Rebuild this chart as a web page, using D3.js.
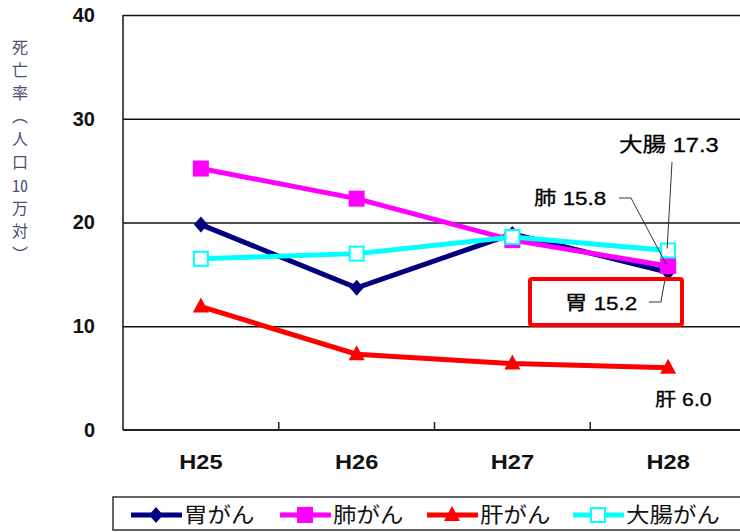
<!DOCTYPE html>
<html>
<head>
<meta charset="utf-8">
<script src="https://cdn.jsdelivr.net/npm/d3@7"></script>
<style>
  body { margin: 0; background: #fff; position: relative; }
  svg { display: block; }
  .ytitle {
    position: absolute; left: 12px; top: 39px;
    writing-mode: vertical-rl;
    font-family: 'Noto Sans CJK JP', sans-serif;
    font-size: 16px; line-height: 16px; letter-spacing: 7px;
    color: #4e4e74; white-space: nowrap;
  }
  .ytitle .tcy { text-combine-upright: all; letter-spacing: 0; margin-bottom: 7px; }
</style>
</head>
<body>
<script>
// Cancer death rates per 100,000 population, fiscal years H25–H28
const years = ["H25", "H26", "H27", "H28"];
const stomach = [19.8, 13.7, 18.9, 15.2];
const lung = [25.2, 22.3, 18.3, 15.8];
const liver = [11.9, 7.3, 6.4, 6.0];
const colon = [16.5, 17.0, 18.6, 17.3];
const seriesNames = ["胃がん", "肺がん", "肝がん", "大腸がん"];
const shortNames = ["胃", "肺", "肝", "大腸"];
const yTicks = [0, 10, 20, 30, 40];
const yTitleParts = ["死亡率（人口", "10", "万対）"];

const W = 740, H = 532;
const plotL = 123, plotR = 746, plotT = 15, plotB = 430;
const stretch = 1.18;   // wide text proportions used throughout

const svg = d3.select("body").append("svg")
  .attr("width", W).attr("height", H)
  .attr("viewBox", `0 0 ${W} ${H}`);

const x = d3.scaleBand().domain(years).range([plotL, plotR]);
const y = d3.scaleLinear().domain([0, 40]).range([plotB, plotT]);
const cx = d => x(d) + x.bandwidth() / 2;

const numFont = "'Liberation Sans', Arial, sans-serif";
const cjkFont = "'Liberation Sans', 'Noto Sans CJK JP', sans-serif";

// Horizontal gridlines and value labels
const yAxis = d3.axisLeft(y).tickValues(yTicks).tickSize(-(W - plotL)).tickPadding(28);
const gy = svg.append("g").attr("transform", `translate(${plotL},0)`).call(yAxis);
gy.select(".domain").remove();
gy.selectAll(".tick line").attr("stroke", "#111").attr("stroke-width", 1.4)
  .filter(d => d === 0).remove();
gy.selectAll(".tick text")
  .attr("fill", "#111").attr("font-family", numFont)
  .attr("font-weight", "bold").attr("font-size", 20);

// Category labels
const xAxis = d3.axisBottom(x).tickSize(0).tickPadding(0).tickFormat("");
const gx = svg.append("g").attr("transform", `translate(0,${plotB})`).call(xAxis);
gx.select(".domain").remove();
gx.selectAll(".tick").append("text")
  .attr("transform", `translate(0,39) scale(${stretch},1)`)
  .attr("text-anchor", "middle")
  .attr("fill", "#111").attr("font-family", numFont)
  .attr("font-weight", "bold").attr("font-size", 20)
  .text(d => d);

// Axis lines and boundary ticks
svg.append("line").attr("x1", plotL).attr("x2", plotL).attr("y1", plotT).attr("y2", plotB)
  .attr("stroke", "#222").attr("stroke-width", 1.6);
svg.append("line").attr("x1", plotL).attr("x2", W).attr("y1", plotB).attr("y2", plotB)
  .attr("stroke", "#222").attr("stroke-width", 2);
svg.append("g").selectAll("line").data(years.slice(1)).join("line")
  .attr("x1", d => x(d)).attr("x2", d => x(d))
  .attr("y1", plotB).attr("y2", plotB - 8)
  .attr("stroke", "#222").attr("stroke-width", 1.5);

// Vertical axis title (vertical writing, "10" set upright across the column)
const yt = d3.select("body").append("div").attr("class", "ytitle");
yTitleParts.forEach((t, i) => {
  yt.append("span").attr("class", i === 1 ? "tcy" : null).text(t);
});

// Marker shapes
const markers = {
  diamond: g => g.append("path").attr("d", "M0,-8L7,0L0,8L-7,0Z"),
  square: g => g.append("rect").attr("x", -8).attr("y", -8).attr("width", 16).attr("height", 16),
  triangle: g => g.append("path").attr("d", "M0,-9L8,6L-8,6Z"),
  hollow: g => g.append("rect").attr("x", -7).attr("y", -7).attr("width", 14).attr("height", 14)
};

const series = [
  { name: seriesNames[0], values: stomach, color: "#000080", marker: "diamond" },
  { name: seriesNames[1], values: lung, color: "#ff00ff", marker: "square" },
  { name: seriesNames[2], values: liver, color: "#ff0000", marker: "triangle" },
  { name: seriesNames[3], values: colon, color: "#00ffff", marker: "hollow" }
];

const line = d3.line().x((d, i) => cx(years[i])).y(d => y(d));

function drawMarker(g, s) {
  const m = markers[s.marker](g);
  if (s.marker === "hollow") m.attr("fill", "#fff").attr("stroke", s.color).attr("stroke-width", 2);
  else m.attr("fill", s.color);
}

series.forEach(s => {
  const g = svg.append("g");
  g.append("path").datum(s.values).attr("d", line)
    .attr("fill", "none").attr("stroke", s.color).attr("stroke-width", 5);
  s.values.forEach((v, i) => {
    const mg = g.append("g").attr("transform", `translate(${cx(years[i])},${y(v)})`);
    drawMarker(mg, s);
  });
});

// Callouts for the latest year
const px = cx(years[3]);
const ann = svg.append("g").attr("font-family", cjkFont).attr("fill", "#000");
function callout(tx, ty, size, label) {
  ann.append("text")
    .attr("transform", `translate(${tx},${ty}) scale(${stretch},1)`)
    .attr("font-size", size).attr("stroke", "#000").attr("stroke-width", 0.3)
    .text(label);
}

// 大腸
ann.append("path")
  .attr("d", `M672,162L${px - 1},${y(colon[3]) - 2}`)
  .attr("fill", "none").attr("stroke", "#333").attr("stroke-width", 1);
callout(619, 152, 20, `${shortNames[3]} ${colon[3].toFixed(1)}`);

// 肺
ann.append("path")
  .attr("d", `M619,198L631,198L${px - 2},${y(lung[3]) - 2}`)
  .attr("fill", "none").attr("stroke", "#333").attr("stroke-width", 1);
callout(534, 205, 19, `${shortNames[1]} ${lung[3].toFixed(1)}`);

// 胃 (boxed)
ann.append("path")
  .attr("d", `M649,302L661,302L663,290L${px - 2},${y(stomach[3]) + 2}`)
  .attr("fill", "none").attr("stroke", "#333").attr("stroke-width", 1);
callout(565, 310, 19, `${shortNames[0]} ${stomach[3].toFixed(1)}`);
svg.append("rect").attr("x", 530).attr("y", 279).attr("width", 152).attr("height", 46)
  .attr("rx", 2).attr("fill", "none").attr("stroke", "#ff0000").attr("stroke-width", 4);

// 肝
callout(655, 406, 18, `${shortNames[2]} ${liver[3].toFixed(1)}`);

// Legend
const lg = svg.append("g");
lg.append("rect").attr("x", 113).attr("y", 497).attr("width", 640).attr("height", 33)
  .attr("fill", "#fff").attr("stroke", "#333").attr("stroke-width", 1.5);
const legendX = [131, 280, 427, 573];
series.forEach((s, i) => {
  const x0 = legendX[i];
  lg.append("line").attr("x1", x0).attr("x2", x0 + 51).attr("y1", 515).attr("y2", 515)
    .attr("stroke", s.color).attr("stroke-width", 5);
  const mg = lg.append("g").attr("transform", `translate(${x0 + 25},515)`);
  drawMarker(mg, s);
  lg.append("text")
    .attr("transform", `translate(${x0 + 53},522) scale(1.12,1)`)
    .attr("font-family", "'Noto Sans CJK JP', sans-serif").attr("font-size", 21)
    .attr("fill", "#111").text(s.name);
});
</script>
</body>
</html>
